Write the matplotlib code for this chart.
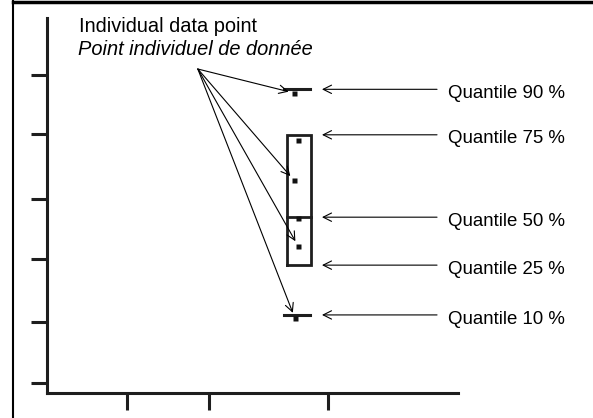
import matplotlib
matplotlib.use("Agg")
import matplotlib.pyplot as plt
from matplotlib.lines import Line2D

plt.rcParams['font.family'] = ['Liberation Sans', 'DejaVu Sans']

# Data (arbitrary units)
x_ticks = [1.95, 3.94, 6.84]
y_ticks = [0.16, 1.15, 2.18, 3.15, 4.21, 5.17]

box_x = 6.13
box_width = 0.58
q_levels = [10, 25, 50, 75, 90]
q_values = [1.27, 2.08, 2.86, 4.20, 4.94]

# individual data points
pts_x = [6.01, 6.11, 6.01, 6.11, 6.11, 6.03]
pts_y = [4.88, 4.12, 3.46, 2.84, 2.39, 1.22]
pointed = [0, 2, 4, 5]          # points the callout arrows go to

fig = plt.figure(figsize=(5.93, 4.18), dpi=100)
ax = fig.add_axes([47/593, 1 - 393/418, (458 - 47)/593, (393 - 18)/418])
ax.set_xlim(0, 10)
ax.set_ylim(0, 6.1)

# axes look
axis_col = '#1e1e1e'
for s in ['top', 'right']:
    ax.spines[s].set_visible(False)
for s in ['left', 'bottom']:
    ax.spines[s].set_linewidth(2.2)
    ax.spines[s].set_color(axis_col)
ax.set_xticks(x_ticks)
ax.set_yticks(y_ticks)
ax.set_xticklabels([])
ax.set_yticklabels([])
ax.tick_params(axis='y', direction='out', length=11.5, width=2.2, color=axis_col)
ax.tick_params(axis='x', direction='out', length=12.2, width=2.2, color=axis_col)

# box (25 % - 75 %) with median line
q = dict(zip(q_levels, q_values))
x0, x1 = box_x - box_width/2, box_x + box_width/2
ax.plot([x0, x1, x1, x0, x0], [q[25], q[25], q[75], q[75], q[25]],
        color=axis_col, lw=2.0, solid_joinstyle='miter')
ax.plot([x0, x1], [q[50], q[50]], color=axis_col, lw=2.0)
# 10 % and 90 % markers
cap_w = 0.62
for lev in [10, 90]:
    ax.plot([box_x - cap_w/2 - 0.05, box_x + cap_w/2 - 0.05], [q[lev], q[lev]],
            color=axis_col, lw=2.2)

# points
ax.plot(pts_x, pts_y, 's', color='#111111', ms=3.6, mec='none')

# callout from the label to some points
src = (3.67, 5.27)
for i in pointed:
    ax.annotate('', xy=(pts_x[i], pts_y[i]), xytext=src,
                arrowprops=dict(arrowstyle='->,head_length=0.6,head_width=0.3',
                                lw=0.8, color='black', shrinkA=0, shrinkB=4,
                                mutation_scale=10))

fig.text(79/593, 1 - 32/418, 'Individual data point', fontsize=14.4,
         va='baseline', ha='left')
fig.text(78/593, 1 - 55/418, 'Point individuel de donnée', fontsize=14.4,
         style='italic', va='baseline', ha='left')

# quantile labels with arrows
for lev, val in zip(q_levels, q_values):
    ax.annotate('', xy=(6.69, val), xytext=(9.49, val),
                arrowprops=dict(arrowstyle='->,head_length=0.6,head_width=0.3',
                                lw=0.8, color='black', shrinkA=0, shrinkB=0,
                                mutation_scale=10))
    ax.annotate('Quantile %d %%' % lev, xy=(9.75, val), xytext=(0, -6.2),
                textcoords='offset points', fontsize=13.4, va='baseline',
                ha='left', annotation_clip=False)

# outer frame (only left and top visible in the crop)
fig.add_artist(Line2D([13/593, 13/593], [0, 1], transform=fig.transFigure,
                      color='black', lw=1.5))
fig.add_artist(Line2D([13/593, 1], [1 - 2/418, 1 - 2/418], transform=fig.transFigure,
                      color='black', lw=2.5))

fig.savefig('out.png', dpi=100)
